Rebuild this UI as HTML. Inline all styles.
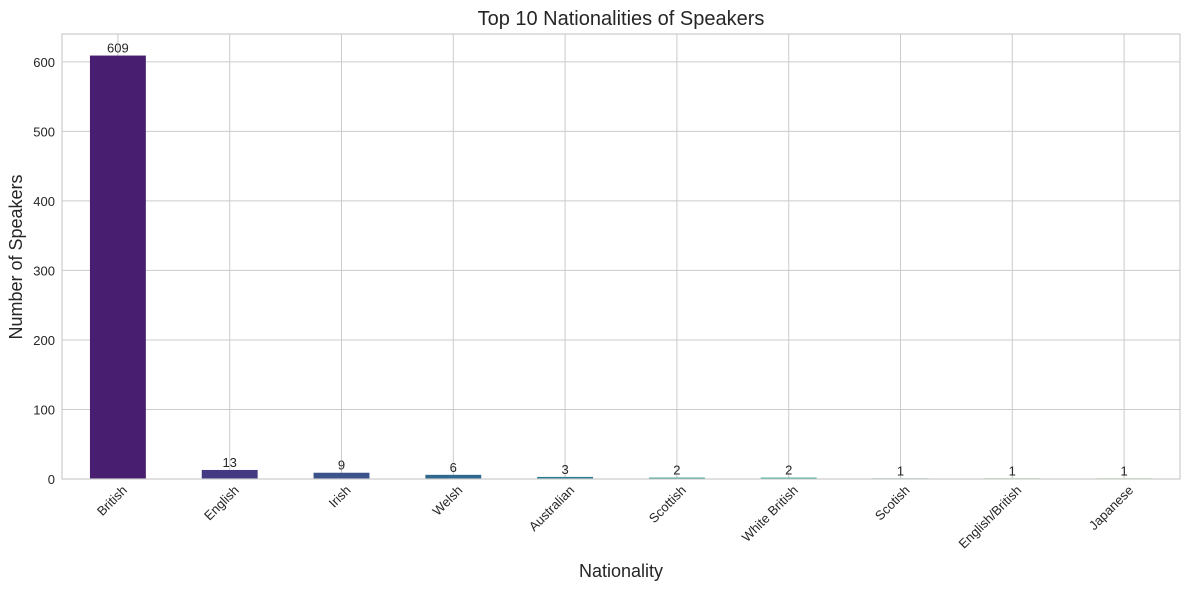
<!DOCTYPE html>
<html><head><meta charset="utf-8"><style>
body{margin:0;background:#fff;font-family:"Liberation Sans",sans-serif}
</style></head><body>
<svg id="chart" width="1189" height="590" xmlns="http://www.w3.org/2000/svg" font-family="Liberation Sans, sans-serif">
<rect width="1189" height="590" fill="#fff"/>
<text x="621" y="25" font-size="20" text-anchor="middle" fill="#262626">Top 10 Nationalities of Speakers</text>
<text x="621" y="577" font-size="18" text-anchor="middle" fill="#262626">Nationality</text>
<text transform="translate(22,257) rotate(-90)" font-size="18" text-anchor="middle" fill="#262626">Number of Speakers</text>
<g id="grid"></g><g id="bars"></g><g id="labels"></g>
<rect x="62" y="34" width="1118" height="445" fill="none" stroke="#cccccc" stroke-width="1.2"/>
</svg>
<script>
const categories=["British","English","Irish","Welsh","Australian","Scottish","White British","Scotish","English/British","Japanese"];
const values=[609,13,9,6,3,2,2,1,1,1];
const colors=["#481f70","#443983","#3b528b","#31688e","#287c8e","#21918c","#20a486","#35b779","#5ec962","#90d743"];
const yTicks=[0,100,200,300,400,500,600];
const L=62,R=1180,T=34,B=479,ymax=640;
const NS="http://www.w3.org/2000/svg";
const y=v=>B-(v/ymax)*(B-T);
const slot=(R-L)/categories.length;
const x=i=>L+slot*(i+0.5);
const grid=document.getElementById('grid'),bars=document.getElementById('bars'),labels=document.getElementById('labels');
function mk(t,a,p){const e=document.createElementNS(NS,t);for(const k in a)e.setAttribute(k,a[k]);p.appendChild(e);return e;}
yTicks.forEach(v=>{
 const g=mk('line',{x1:L,x2:R,y1:y(v),y2:y(v),stroke:'#cccccc','stroke-width':1},grid);
 
 
 const t=mk('text',{x:L-7,y:y(v)+5,'font-size':13,'text-anchor':'end',fill:'#262626'},labels);
 t.textContent=v;
 
 
});
categories.forEach((c,i)=>{
 const g=mk('line',{x1:x(i),x2:x(i),y1:T,y2:B,stroke:'#cccccc','stroke-width':1},grid);
 
 
 const w=slot*0.5;
 const b=mk('rect',{x:x(i)-w/2,y:y(values[i]),width:w,height:B-y(values[i]),fill:colors[i]},bars);
 
 
 const v=mk('text',{x:x(i),y:y(values[i])-3,'font-size':13,'text-anchor':'middle',fill:'#262626'},labels);
 v.textContent=values[i];
 
 
 const ax=x(i)+10, ay=B+12;
 const t=mk('text',{x:ax,y:ay,'font-size':13,'text-anchor':'end',fill:'#262626',transform:`rotate(-45 ${ax} ${ay})`},labels);
 t.textContent=c;
 
 
});
</script>
</body></html>
